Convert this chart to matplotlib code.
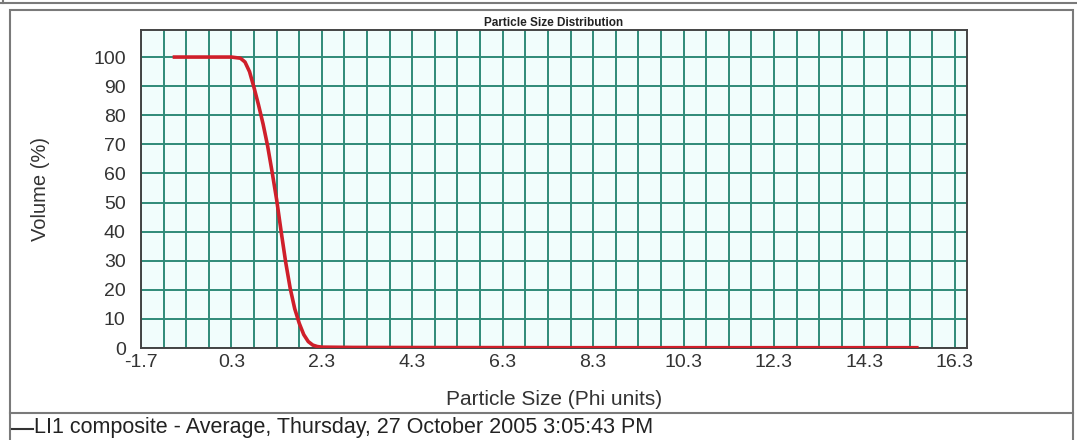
import matplotlib
matplotlib.use("Agg")
import matplotlib.pyplot as plt
from matplotlib.lines import Line2D
from matplotlib.patches import Rectangle

plt.rcParams['font.family'] = ['Liberation Sans', 'DejaVu Sans']

# cumulative volume curve (phi units, % volume)
phi = [-1.0, -0.5, 0.0, 0.3, 0.5, 0.6, 0.7, 0.8, 0.9, 1.0, 1.1, 1.2, 1.3,
       1.4, 1.5, 1.6, 1.7, 1.8, 1.9, 2.0, 2.1, 2.2, 2.3, 3.0, 5.0, 8.0,
       11.0, 14.0, 15.5]
volume = [100, 100, 100, 100, 99.6, 98.3, 95.0, 89.5, 83.5, 77.0, 69.5,
          60.5, 51.0, 40.0, 29.5, 20.5, 13.5, 8.5, 4.6, 2.2, 1.0, 0.5, 0.3,
          0.2, 0.15, 0.1, 0.1, 0.1, 0.1]

x_ticks = [-1.7, 0.3, 2.3, 4.3, 6.3, 8.3, 10.3, 12.3, 14.3, 16.3]
x_grid = [-1.7 + 0.5 * i for i in range(37)]
y_ticks = [0, 10, 20, 30, 40, 50, 60, 70, 80, 90, 100]

series_label = "LI1 composite - Average, Thursday, 27 October 2005 3:05:43 PM"

W, H = 1077, 440
fig = plt.figure(figsize=(W / 100, H / 100), dpi=100)


def fx(px):
    return px / W


def fy(py):
    return 1 - py / H


frame_c = '#7a7a7a'
# remains of the box above
fig.add_artist(Line2D([0, 1], [fy(3), fy(3)], color=frame_c, lw=1.5))
fig.add_artist(Line2D([fx(3), fx(3)], [fy(0), fy(3)], color=frame_c, lw=1.5))
# main chart panel
fig.add_artist(Rectangle((fx(10), fy(413)), fx(1073) - fx(10), fy(10) - fy(413),
                         fill=False, edgecolor=frame_c, lw=1.5))
# legend panel sides
fig.add_artist(Line2D([fx(10), fx(10)], [0, fy(413)], color=frame_c, lw=1.5))
fig.add_artist(Line2D([fx(1073), fx(1073)], [0, fy(413)], color=frame_c, lw=1.5))

ax = fig.add_axes([fx(141), fy(348), fx(967) - fx(141), fy(30) - fy(348)])
ax.set_facecolor('#f1fdfc')

grid_c = '#2f8a78'
for gx in x_grid:
    ax.axvline(gx, color=grid_c, lw=1.4, zorder=1)
for gy in y_ticks:
    ax.axhline(gy, color=grid_c, lw=1.4, zorder=1)

ax.plot(phi, volume, color='#cf1f2a', lw=2.6, solid_capstyle='butt', zorder=3)

ax.set_xlim(-1.7, 16.57)
ax.set_ylim(0, 109.3)
ax.set_xticks(x_ticks)
ax.set_xticklabels([f"{v:.1f}" for v in x_ticks])
ax.set_yticks(y_ticks)
ax.tick_params(length=0, labelsize=14, labelcolor='#333333')
ax.tick_params(axis='x', pad=4)
ax.tick_params(axis='y', pad=11)
for s in ax.spines.values():
    s.set_color('#444444')
    s.set_linewidth(1.4)

ax.set_title("Particle Size Distribution", fontsize=8.5, fontweight='bold',
             color='#222222', pad=3)
ax.set_xlabel("Particle Size (Phi units)", fontsize=15, color='#333333', labelpad=14)
ax.set_ylabel("Volume (%)", fontsize=14.5, color='#333333', labelpad=31)

# legend line
fig.add_artist(Line2D([fx(12), fx(33)], [fy(429), fy(429)], color='#333333', lw=1.5))
fig.text(fx(34), fy(427), series_label, fontsize=15.5, color='#222222',
         va='center', ha='left')

fig.savefig("out.png", dpi=100)
